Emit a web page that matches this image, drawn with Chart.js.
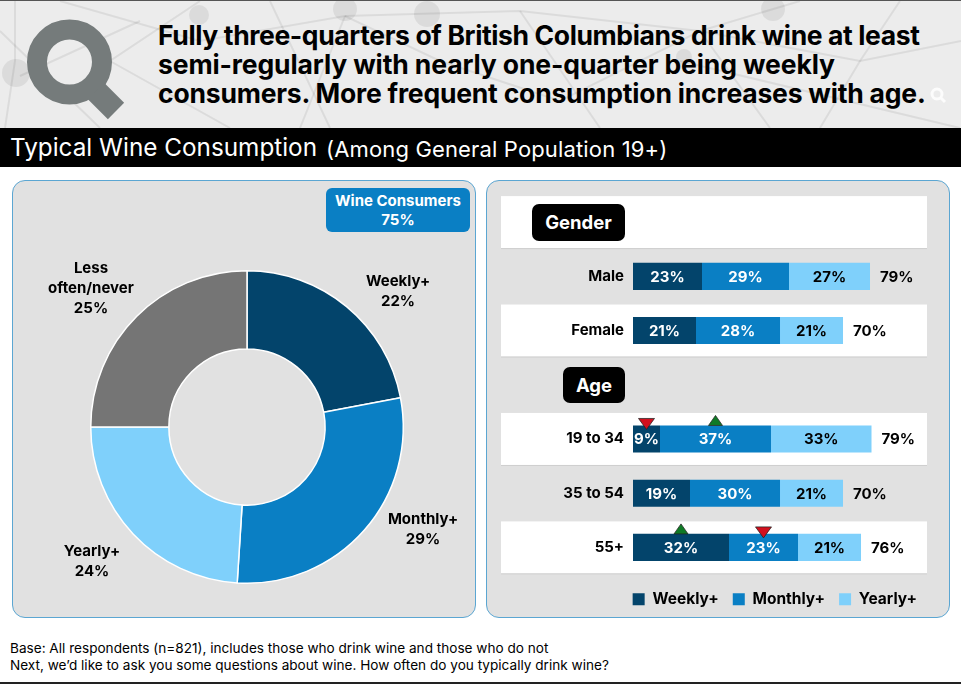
<!DOCTYPE html>
<html>
<head>
<meta charset="utf-8">
<title>Typical Wine Consumption</title>
<script src="https://cdn.jsdelivr.net/npm/chart.js@4"></script>
<style>
  html, body { margin: 0; padding: 0; background: #fff; }
  body { position: relative; width: 961px; height: 685px; overflow: hidden; font-family: Inter, sans-serif; color: #000; }
  .abs { position: absolute; }
  #header { left: 0; top: 0; width: 961px; height: 128px; background: #ececec; border-top: 1px solid #555; box-sizing: border-box; }
  #headline { left: 158px; top: 21px; font-size: 26.5px; line-height: 29px; font-weight: 700; white-space: nowrap; }
  #headline span { display: block; }
  #band { left: 0; top: 128px; width: 961px; height: 39px; background: #000; color: #fff; white-space: nowrap; }
  #band .main { position: absolute; left: 10px; top: 3px; font-size: 24.3px; line-height: 32px; }
  #band .sub { position: absolute; left: 326px; top: 5px; font-size: 22px; line-height: 32px; letter-spacing: 0.15px; }
  .panel { top: 180px; height: 438px; background: #e1e1e1; border: 1.5px solid #5ba6d2; border-radius: 13px; box-sizing: border-box; }
  #consumers { left: 326px; top: 188px; width: 144px; height: 44px; background: #0a7fc4; color: #fff; border-radius: 6px; text-align: center; font-weight: 700; font-size: 15px; line-height: 19px; padding-top: 3px; box-sizing: border-box; }
  .slice-label { font-weight: 700; font-size: 15px; line-height: 20px; text-align: center; transform: translate(-50%, -50%); white-space: nowrap; }
  .pill { background: #000; color: #fff; font-weight: 700; font-size: 18.5px; border-radius: 7px; text-align: center; z-index: 3; }
  #footnote { left: 10px; top: 640px; font-size: 13.6px; line-height: 17px; white-space: nowrap; }
  #rule { left: 0; top: 682px; width: 961px; height: 2px; background: #222; }
</style>
</head>
<body>
<div id="header" class="abs">
  <svg width="961" height="127" style="position:absolute;left:0;top:0">
    <g stroke="#000" stroke-opacity="0.07" stroke-width="2" fill="none">
      <path d="M15 0 L15 60 L5 127"/>
      <path d="M60 0 L200 40 L345 15 L440 60 L560 100 L700 30 L770 127"/>
      <path d="M200 0 L110 60 L230 127"/>
      <path d="M345 15 L300 127"/>
      <path d="M345 15 L520 10 L700 30 L860 60 L961 40"/>
      <path d="M270 0 L330 127"/>
      <path d="M700 30 L800 0"/>
      <path d="M860 60 L900 0"/>
      <path d="M860 60 L820 127"/>
      <path d="M520 10 L600 127"/>
      <path d="M0 30 L100 127"/>
      <path d="M680 60 L960 127"/>
      <path d="M20 75 L140 20"/>
    </g>
    <g fill="#000" fill-opacity="0.07">
      <circle cx="199" cy="14" r="10"/><circle cx="345" cy="8" r="12"/><circle cx="427" cy="13" r="13"/>
      <circle cx="773" cy="8" r="12"/><circle cx="16" cy="72" r="14"/><circle cx="684" cy="56" r="8"/>
    </g>
    <g stroke="#fff" stroke-width="3" fill="none" opacity="0.85">
      <circle cx="937" cy="93" r="5"/><path d="M941 97 L945 101"/>
    </g>
    <g fill="none" stroke="#757b7b">
      <circle cx="69.5" cy="61" r="32.5" stroke-width="20"/>
      <path d="M96 90 L116 110" stroke-width="23"/>
    </g>
  </svg>
</div>
<div id="headline" class="abs">
  <span style="letter-spacing:-0.38px">Fully three-quarters of British Columbians drink wine at least</span>
  <span style="letter-spacing:-0.12px">semi-regularly with nearly one-quarter being weekly</span>
  <span style="letter-spacing:-0.2px">consumers. More frequent consumption increases with age.</span>
</div>
<div id="band" class="abs"><span class="main">Typical Wine Consumption</span><span class="sub">(Among General Population 19+)</span></div>

<div class="abs panel" style="left:12px;width:464px"></div>
<div class="abs panel" style="left:486px;width:464px"></div>
<div id="consumers" class="abs">Wine Consumers<br>75%</div>

<div class="abs" style="left:85px;top:265px;width:324px;height:324px"><canvas id="donutChart"></canvas></div>
<div id="donutLabels"></div>

<div class="abs" style="left:501px;top:195px;width:430px;height:422px"><canvas id="barChart"></canvas></div>
<div class="abs pill" style="left:532px;top:204px;width:93px;height:37px;line-height:37px">Gender</div>
<div class="abs pill" style="left:563px;top:367px;width:62px;height:36px;line-height:36px">Age</div>

<div id="footnote" class="abs">Base: All respondents (n=821), includes those who drink wine and those who do not<br>Next, we’d like to ask you some questions about wine. How often do you typically drink wine?</div>
<div id="rule" class="abs"></div>

<script>
const sliceNames = ['Weekly+', 'Monthly+', 'Yearly+', 'Less often/never'];
const sliceValues = [22, 29, 24, 25];
const sliceColors = ['#03446b', '#0a7fc4', '#7fd0fb', '#757575'];
const sliceLabelLines = [['Weekly+'], ['Monthly+'], ['Yearly+'], ['Less', 'often/never']];
const sliceLabelSpots = [[398, 291], [423, 529], [92, 561], [91, 288]];

const rowNames = ['', 'Male', 'Female', '', '19 to 34', '35 to 54', '55+'];
const weekly = [null, 23, 21, null, 9, 19, 32];
const monthly = [null, 29, 28, null, 37, 30, 23];
const yearly = [null, 27, 21, null, 33.5, 21, 21];
const yearlyShown = [null, 27, 21, null, 33, 21, 21];
const totals = [null, 79, 70, null, 79, 70, 76];
// significance flags: [row index, dataset index, 'up' or 'down']
const sigMarks = [[4, 0, 'down'], [4, 1, 'up'], [6, 0, 'up'], [6, 1, 'down']];
const whiteRows = [0, 2, 4, 6];

const donutLabels = document.getElementById('donutLabels');
sliceNames.forEach((name, i) => {
  const el = document.createElement('div');
  el.className = 'abs slice-label';
  el.style.left = sliceLabelSpots[i][0] + 'px';
  el.style.top = sliceLabelSpots[i][1] + 'px';
  el.innerHTML = sliceLabelLines[i].join('<br>') + '<br>' + sliceValues[i] + '%';
  donutLabels.appendChild(el);
});

new Chart(document.getElementById('donutChart'), {
  type: 'doughnut',
  data: {
    labels: sliceNames,
    datasets: [{
      data: sliceValues,
      backgroundColor: sliceColors,
      borderColor: '#fff',
      borderWidth: 1.5
    }]
  },
  options: {
    responsive: true,
    maintainAspectRatio: false,
    animation: false,
    cutout: '50%',
    layout: { padding: 5 },
    plugins: { legend: { display: false }, tooltip: { enabled: false } }
  }
});

// white row strips go under the axis labels, so they are painted first
const rowBands = {
  id: 'rowBands',
  beforeDraw(chart) {
    const { ctx, scales: { y }, chartArea } = chart;
    const right = chartArea.right - 4;
    ctx.save();
    whiteRows.forEach(row => {
      const mid = y.getPixelForValue(row);
      ctx.fillStyle = '#fff';
      ctx.fillRect(0, mid - 26, right, 52);
      ctx.fillStyle = '#cfcfcf';
      ctx.fillRect(0, mid + 26, right, 1);
    });
    ctx.restore();
  }
};

const barText = {
  id: 'barText',
  afterDatasetsDraw(chart) {
    const { ctx, scales: { y } } = chart;
    ctx.save();
    ctx.font = 'bold 15px Inter, sans-serif';
    ctx.textBaseline = 'middle';
    ctx.textAlign = 'center';
    const textColors = ['#fff', '#fff', '#000'];
    chart.data.datasets.forEach((ds, d) => {
      chart.getDatasetMeta(d).data.forEach((bar, i) => {
        if (ds.data[i] === null) return;
        ctx.fillStyle = textColors[d];
        const shown = d === 2 ? yearlyShown[i] : ds.data[i];
        const { x: barEnd, base } = bar.getProps(['x', 'base']);
        ctx.fillText(shown + '%', (barEnd + base) / 2, bar.y + 1);
      });
    });
    ctx.textAlign = 'left';
    ctx.fillStyle = '#000';
    totals.forEach((total, i) => {
      if (total === null) return;
      const stackEnd = chart.getDatasetMeta(2).data[i].x;
      ctx.fillText(total + '%', stackEnd + 10, y.getPixelForValue(i) + 1);
    });
    sigMarks.forEach(([row, d, dir]) => {
      const bar = chart.getDatasetMeta(d).data[row];
      const { x: barEnd, base } = bar.getProps(['x', 'base']);
      const cx = (barEnd + base) / 2;
      const top = bar.y - 13.5;
      ctx.beginPath();
      if (dir === 'up') {
        ctx.moveTo(cx - 7, top);
        ctx.lineTo(cx + 7, top);
        ctx.lineTo(cx, top - 10);
        ctx.fillStyle = '#0f7a26';
      } else {
        ctx.moveTo(cx - 8, top - 7);
        ctx.lineTo(cx + 8, top - 7);
        ctx.lineTo(cx, top + 4);
        ctx.fillStyle = '#d2101e';
      }
      ctx.closePath();
      ctx.fill();
      ctx.strokeStyle = '#222';
      ctx.lineWidth = 0.75;
      ctx.stroke();
    });
    ctx.restore();
  }
};

new Chart(document.getElementById('barChart'), {
  type: 'bar',
  data: {
    labels: rowNames,
    datasets: [
      { label: 'Weekly+', data: weekly, backgroundColor: sliceColors[0] },
      { label: 'Monthly+', data: monthly, backgroundColor: sliceColors[1] },
      { label: 'Yearly+', data: yearly, backgroundColor: sliceColors[2] }
    ]
  },
  options: {
    indexAxis: 'y',
    responsive: true,
    maintainAspectRatio: false,
    animation: false,
    layout: { padding: 0, autoPadding: false },
    datasets: { bar: { barPercentage: 0.5, categoryPercentage: 1 } },
    scales: {
      x: {
        stacked: true,
        min: 0,
        max: 99.33,
        afterFit(scale) { scale.height = 3; },
        grid: { display: false, drawTicks: false },
        border: { display: false },
        ticks: { display: false }
      },
      y: {
        stacked: true,
        afterFit(scale) {
          scale.width = 132;
          scale.paddingTop = 0;
          scale.paddingBottom = 0;
        },
        grid: { display: false, drawTicks: false },
        border: { display: false },
        ticks: {
          autoSkip: false,
          padding: 9,
          color: '#000',
          font: { family: 'Inter, sans-serif', size: 15, weight: 'bold' }
        }
      }
    },
    plugins: {
      tooltip: { enabled: false },
      legend: {
        position: 'bottom',
        align: 'end',
        labels: {
          boxWidth: 12,
          boxHeight: 12,
          padding: 14,
          color: '#000',
          font: { family: 'Inter, sans-serif', size: 15.5, weight: 'bold' }
        }
      }
    }
  },
  plugins: [rowBands, barText]
});
</script>
</body>
</html>
